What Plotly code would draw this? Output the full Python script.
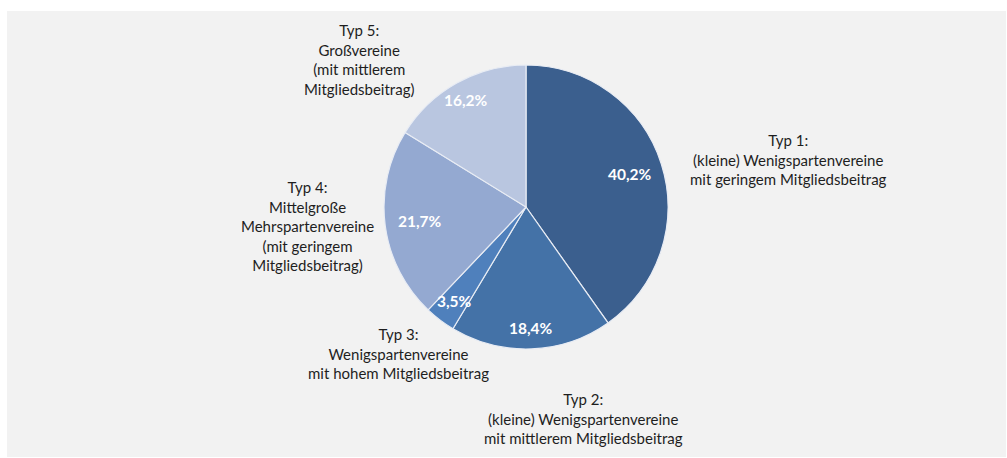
import math
import plotly.graph_objects as go

# ---- data ----
categories = ["Typ 1", "Typ 2", "Typ 3", "Typ 4", "Typ 5"]
values = [40.2, 18.4, 3.5, 21.7, 16.2]
pct_labels = ["40,2%", "18,4%", "3,5%", "21,7%", "16,2%"]
outside_labels = [
    "Typ 1:<br>(kleine) Wenigspartenvereine<br>mit geringem Mitgliedsbeitrag",
    "Typ 2:<br>(kleine) Wenigspartenvereine<br>mit mittlerem Mitgliedsbeitrag",
    "Typ 3:<br>Wenigspartenvereine<br>mit hohem Mitgliedsbeitrag",
    "Typ 4:<br>Mittelgroße<br>Mehrspartenvereine<br>(mit geringem<br>Mitgliedsbeitrag)",
    "Typ 5:<br>Großvereine<br>(mit mittlerem<br>Mitgliedsbeitrag)",
]

# ---- styles / layout ----
W, H = 1007, 458
colors = ["#3B5F8E", "#4472A7", "#4F80BC", "#94A9D1", "#B9C6E0"]
CX, CY, R = 526, 207, 142
inner_radius_factor = [0.77, 0.85, 0.83, 0.75, 0.86]
outside_pos = [(788, 160), (583, 418), (398, 353), (307, 226), (359, 60)]
FONT = "Lato"

fig = go.Figure(go.Pie(
    labels=categories,
    values=values,
    sort=False,
    direction="clockwise",
    rotation=0,
    marker=dict(colors=colors, line=dict(color="#E8ECF4", width=1.2)),
    textinfo="none",
    hoverinfo="label+percent",
    showlegend=False,
    domain=dict(x=[(CX - R) / W, (CX + R) / W],
                y=[1 - (CY + R) / H, 1 - (CY - R) / H]),
))

annotations = []
total = sum(values)
cum = 0.0
for i, v in enumerate(values):
    mid = (cum + v / 2) / total * 2 * math.pi
    cum += v
    rr = R * inner_radius_factor[i]
    px = CX + rr * math.sin(mid)
    py = CY - rr * math.cos(mid)
    annotations.append(dict(
        x=px / W, y=1 - py / H, xref="paper", yref="paper",
        text="<b>" + pct_labels[i] + "</b>", showarrow=False,
        font=dict(family=FONT, size=15.5, color="white"),
        xanchor="center", yanchor="middle"))
    ox, oy = outside_pos[i]
    annotations.append(dict(
        x=ox / W, y=1 - oy / H, xref="paper", yref="paper",
        text=outside_labels[i], showarrow=False, align="center",
        font=dict(family=FONT, size=15, color="#1E1E1E"),
        xanchor="center", yanchor="middle"))

fig.update_layout(
    width=W, height=H,
    margin=dict(l=0, r=0, t=0, b=0),
    paper_bgcolor="white",
    plot_bgcolor="white",
    annotations=annotations,
    shapes=[dict(type="rect", xref="paper", yref="paper",
                 x0=7 / W, x1=1006 / W, y0=1 - 457 / H, y1=1 - 11 / H,
                 fillcolor="#F2F2F2", line=dict(width=0), layer="below")],
)

fig.write_html("out.html")
